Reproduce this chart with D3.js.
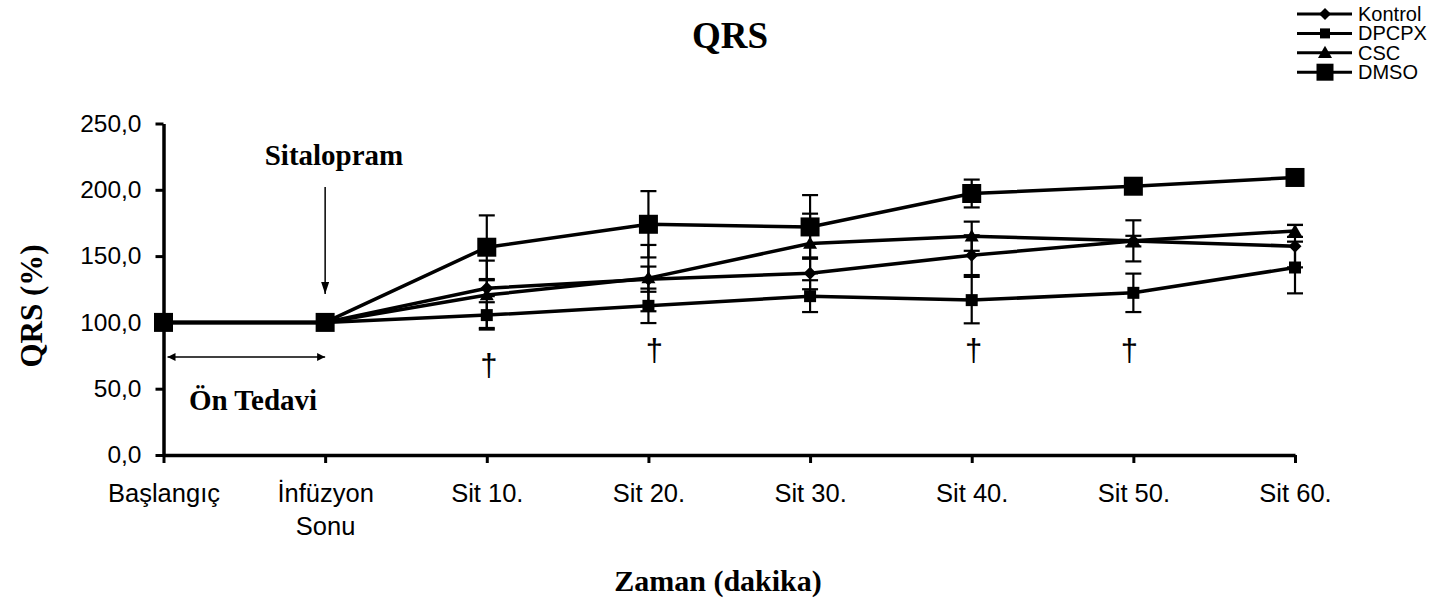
<!DOCTYPE html>
<html>
<head>
<meta charset="utf-8">
<script src="https://cdn.jsdelivr.net/npm/d3@7"></script>
<style>
  body { margin: 0; background: #fff; }
  svg { display: block; }
</style>
</head>
<body>
<svg id="chart" width="1435" height="604"></svg>
<script>
// Time points (x categories); "\n" breaks a label onto two lines
const categories = ["Başlangıç", "İnfüzyon\nSonu", "Sit 10.", "Sit 20.", "Sit 30.", "Sit 40.", "Sit 50.", "Sit 60."];
const yTicks = [0, 50, 100, 150, 200, 250];

// QRS (% of baseline), mean and standard error per group
const kontrol    = [100, 100, 125.8, 132.6, 137.0, 150.7, 161.3, 157.5];
const kontrolErr = [0, 0, 6, 9.5, 12, 15, 4, 16];
const dpcpx      = [100, 100, 105.5, 112.5, 119.8, 116.8, 122.3, 141.4];
const dpcpxErr   = [0, 0, 9.7, 13, 12, 17.5, 14.5, 19.5];
const csc        = [100, 100, 120.6, 133.4, 159.5, 165.0, 161.5, 169.0];
const cscErr     = [0, 0, 26, 25, 22.5, 11, 15.5, 4.5];
const dmso       = [100, 100, 156.7, 174.0, 172.0, 197.2, 202.7, 209.3];
const dmsoErr    = [0, 0, 24, 25, 24, 10.5, 3, 3];

// Significance marks (†) below selected time points
const daggerCats = ["Sit 10.", "Sit 20.", "Sit 40.", "Sit 50."];

const series = [
  { name: "Kontrol", values: kontrol, errors: kontrolErr, shape: "diamond", size: 13, legendSize: 12 },
  { name: "DPCPX",   values: dpcpx,   errors: dpcpxErr,   shape: "square",  size: 12, legendSize: 10 },
  { name: "CSC",     values: csc,     errors: cscErr,     shape: "triangle", size: 14, legendSize: 14 },
  { name: "DMSO",    values: dmso,    errors: dmsoErr,    shape: "square",  size: 19, legendSize: 17 }
];

const svg = d3.select("#chart");
const SANS = "'Liberation Sans', Arial, sans-serif";
const SERIF = "'Liberation Serif', 'Times New Roman', serif";

const x = d3.scalePoint().domain(categories).range([163.5, 1295]);
const y = d3.scaleLinear().domain([0, 250]).range([455, 123.5]);

function shapePath(shape, s) {
  const r = s / 2;
  if (shape === "diamond") return `M0,${-r}L${r},0L0,${r}L${-r},0Z`;
  if (shape === "triangle") return `M0,${-r}L${r},${r * 0.75}L${-r},${r * 0.75}Z`;
  return `M${-r},${-r}H${r}V${r}H${-r}Z`;
}

// Title
svg.append("text")
  .attr("x", 730).attr("y", 48)
  .attr("text-anchor", "middle")
  .attr("font-family", SERIF).attr("font-weight", "bold").attr("font-size", 37)
  .text("QRS");

// Y axis
const yAxis = svg.append("g")
  .attr("transform", `translate(${x(categories[0])},0)`)
  .call(d3.axisLeft(y).tickValues(yTicks).tickSize(8).tickSizeOuter(0)
    .tickFormat(d => d.toFixed(1).replace(".", ",")));
yAxis.select(".domain").attr("stroke", "#000").attr("stroke-width", 3.5);
yAxis.selectAll(".tick line").attr("stroke", "#000").attr("stroke-width", 3);
yAxis.selectAll(".tick text")
  .attr("x", -22)
  .attr("font-family", SANS).attr("font-size", 24.5).attr("fill", "#000");

// X axis
const xAxis = svg.append("g")
  .attr("transform", `translate(0,${y(0)})`)
  .call(d3.axisBottom(x).tickSize(8).tickSizeOuter(0));
xAxis.select(".domain").attr("stroke", "#000").attr("stroke-width", 3.5);
xAxis.selectAll(".tick line").attr("stroke", "#000").attr("stroke-width", 3);
xAxis.selectAll(".tick text").remove();
xAxis.selectAll(".tick").each(function (d) {
  const t = d3.select(this).append("text")
    .attr("text-anchor", "middle")
    .attr("font-family", SANS).attr("font-size", 25.5).attr("fill", "#000");
  d.split("\n").forEach((line, i) => {
    t.append("tspan").attr("x", 0).attr("y", 47 + i * 33).text(line);
  });
});

// Axis titles
svg.append("text")
  .attr("x", 718).attr("y", 591)
  .attr("text-anchor", "middle")
  .attr("font-family", SERIF).attr("font-weight", "bold").attr("font-size", 30)
  .text("Zaman (dakika)");
svg.append("text")
  .attr("transform", "translate(42,306) rotate(-90)")
  .attr("text-anchor", "middle")
  .attr("font-family", SERIF).attr("font-weight", "bold").attr("font-size", 31)
  .text("QRS (%)");

// Arrowheads
const defs = svg.append("defs");
defs.append("marker")
  .attr("id", "head").attr("viewBox", "0 0 10 10")
  .attr("refX", 10).attr("refY", 5)
  .attr("markerWidth", 8).attr("markerHeight", 8)
  .attr("markerUnits", "userSpaceOnUse")
  .attr("orient", "auto-start-reverse")
  .append("path").attr("d", "M0,0L10,5L0,10Z").attr("fill", "#000");
defs.append("marker")
  .attr("id", "longhead").attr("viewBox", "0 0 12 8")
  .attr("refX", 12).attr("refY", 4)
  .attr("markerWidth", 12).attr("markerHeight", 8)
  .attr("markerUnits", "userSpaceOnUse")
  .attr("orient", "auto-start-reverse")
  .append("path").attr("d", "M0,0L12,4L0,8Z").attr("fill", "#000");

// Infusion marker: "Sitalopram" with downward arrow
const xInf = x(categories[1]);
svg.append("text")
  .attr("x", 334).attr("y", 165)
  .attr("text-anchor", "middle")
  .attr("font-family", SERIF).attr("font-weight", "bold").attr("font-size", 29)
  .text("Sitalopram");
svg.append("line")
  .attr("x1", xInf).attr("x2", xInf)
  .attr("y1", 187).attr("y2", 294)
  .attr("stroke", "#000").attr("stroke-width", 1.5)
  .attr("marker-end", "url(#longhead)");

// Pre-treatment span
svg.append("line")
  .attr("x1", x(categories[0]) + 4).attr("x2", xInf)
  .attr("y1", 357).attr("y2", 357)
  .attr("stroke", "#000").attr("stroke-width", 1.5)
  .attr("marker-start", "url(#head)").attr("marker-end", "url(#head)");
svg.append("text")
  .attr("x", 253).attr("y", 410)
  .attr("text-anchor", "middle")
  .attr("font-family", SERIF).attr("font-weight", "bold").attr("font-size", 29)
  .text("Ön Tedavi");

// Error bars
const plot = svg.append("g");
series.forEach(s => {
  const g = plot.append("g");
  s.values.forEach((v, i) => {
    const e = s.errors[i];
    if (!e) return;
    const cx = x(categories[i]);
    g.append("line")
      .attr("x1", cx).attr("x2", cx)
      .attr("y1", y(v + e)).attr("y2", y(v - e))
      .attr("stroke", "#000").attr("stroke-width", 2.2);
    [v + e, v - e].forEach(b => {
      g.append("line")
        .attr("x1", cx - 8).attr("x2", cx + 8)
        .attr("y1", y(b)).attr("y2", y(b))
        .attr("stroke", "#000").attr("stroke-width", 2.2);
    });
  });
});

// Lines and markers
const line = d3.line().x((d, i) => x(categories[i])).y(d => y(d));
series.forEach(s => {
  plot.append("path")
    .datum(s.values)
    .attr("d", line)
    .attr("fill", "none").attr("stroke", "#000")
    .attr("stroke-width", 3.5).attr("stroke-linejoin", "round");
});
series.forEach(s => {
  plot.append("g").selectAll("path")
    .data(s.values)
    .join("path")
    .attr("transform", (d, i) => `translate(${x(categories[i])},${y(d)})`)
    .attr("d", shapePath(s.shape, s.size))
    .attr("fill", "#000");
});

// Significance daggers
const daggerStyle = { "Sit 10.": { dx: 2, dy: 376 }, "Sit 20.": { dx: 6, dy: 361 }, "Sit 40.": { dx: 2, dy: 361 }, "Sit 50.": { dx: -4, dy: 361 } };
svg.append("g").selectAll("text")
  .data(daggerCats)
  .join("text")
  .attr("x", d => x(d) + daggerStyle[d].dx)
  .attr("y", d => daggerStyle[d].dy)
  .attr("text-anchor", "middle")
  .attr("font-family", SANS).attr("font-size", 31)
  .text("†");

// Legend
const legend = svg.append("g");
series.forEach((s, i) => {
  const ly = 14 + i * 19.4;
  legend.append("line")
    .attr("x1", 1297).attr("x2", 1352)
    .attr("y1", ly).attr("y2", ly)
    .attr("stroke", "#000").attr("stroke-width", 3);
  legend.append("path")
    .attr("transform", `translate(1325,${ly})`)
    .attr("d", shapePath(s.shape, s.legendSize))
    .attr("fill", "#000");
  legend.append("text")
    .attr("x", 1358).attr("y", ly + 7)
    .attr("font-family", SANS).attr("font-size", 20)
    .text(s.name);
});
</script>
</body>
</html>
